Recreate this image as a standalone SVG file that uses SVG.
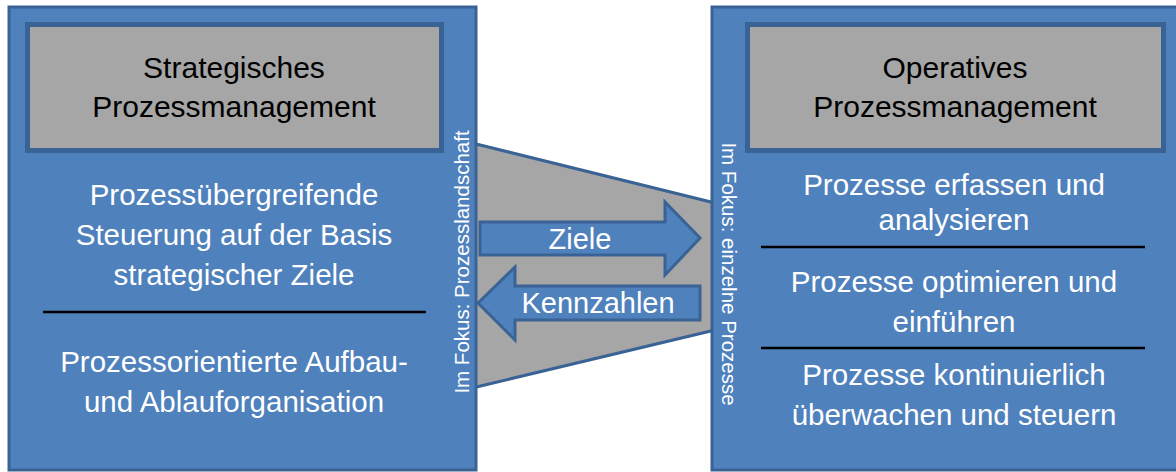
<svg xmlns="http://www.w3.org/2000/svg" width="1176" height="472" viewBox="0 0 1176 472">
  <style>
    .panel { fill: #4f81bd; stroke: #3a6395; stroke-width: 3; }
    .title-box { fill: #a6a6a6; stroke: #3a6395; stroke-width: 5; }
    .title { font-family: "Liberation Sans", Arial, sans-serif; font-size: 30px; fill: #000; text-anchor: middle; }
    .item { font-family: "Liberation Sans", Arial, sans-serif; font-size: 29.5px; fill: #fff; text-anchor: middle; }
    .side { font-family: "Liberation Sans", Arial, sans-serif; font-size: 20.5px; fill: #fff; text-anchor: middle; }
    .divider { stroke: #000; stroke-width: 2.5; }
    .funnel { fill: #a6a6a6; stroke: #3a6395; stroke-width: 3; }
    .arrow { fill: #4f81bd; stroke: #3a6395; stroke-width: 3; }
    .arrow-label { font-family: "Liberation Sans", Arial, sans-serif; font-size: 29px; fill: #fff; text-anchor: middle; }
  </style>

  <rect width="1176" height="472" fill="#fff"/>

  <!-- connecting funnel between the two panels -->
  <g id="connectors">
    <polygon class="funnel" points="472,143 715,203 715,330 472,388"/>
    <g id="arrow-ziele">
      <polygon class="arrow" points="480,222 665,222 665,202 700,238 665,275 665,255 480,255"/>
      <text class="arrow-label" x="580" y="249">Ziele</text>
    </g>
    <g id="arrow-kennzahlen">
      <polygon class="arrow" points="478,303 515,267 515,286 700,286 700,320 515,320 515,340"/>
      <text class="arrow-label" x="598" y="313">Kennzahlen</text>
    </g>
  </g>

  <!-- strategic process management -->
  <g id="strategisch">
    <rect class="panel" x="9" y="7" width="467" height="463"/>
    <rect class="title-box" x="27.5" y="24.5" width="414" height="126"/>
    <text class="title" x="234" y="78">Strategisches</text>
    <text class="title" x="234" y="117">Prozessmanagement</text>
    <text class="item" x="234" y="205">Prozessübergreifende</text>
    <text class="item" x="234" y="245">Steuerung auf der Basis</text>
    <text class="item" x="234" y="285">strategischer Ziele</text>
    <line class="divider" x1="43" y1="312" x2="426" y2="312"/>
    <text class="item" x="234" y="372">Prozessorientierte Aufbau-</text>
    <text class="item" x="234" y="412">und Ablauforganisation</text>
    <text class="side" transform="translate(469,262) rotate(-90)">Im Fokus: Prozesslandschaft</text>
  </g>

  <!-- operative process management -->
  <g id="operativ">
    <rect class="panel" x="712" y="7" width="470" height="463"/>
    <rect class="title-box" x="747.5" y="24.5" width="416" height="126"/>
    <text class="title" x="955" y="78">Operatives</text>
    <text class="title" x="955" y="117">Prozessmanagement</text>
    <text class="item" x="954" y="195">Prozesse erfassen und</text>
    <text class="item" x="954" y="230">analysieren</text>
    <line class="divider" x1="761" y1="247" x2="1145" y2="247"/>
    <text class="item" x="954" y="292">Prozesse optimieren und</text>
    <text class="item" x="954" y="332">einführen</text>
    <line class="divider" x1="761" y1="348" x2="1145" y2="348"/>
    <text class="item" x="954" y="385">Prozesse kontinuierlich</text>
    <text class="item" x="954" y="425">überwachen und steuern</text>
    <text class="side" transform="translate(722,274) rotate(90)">Im Fokus: einzelne Prozesse</text>
  </g>
</svg>
